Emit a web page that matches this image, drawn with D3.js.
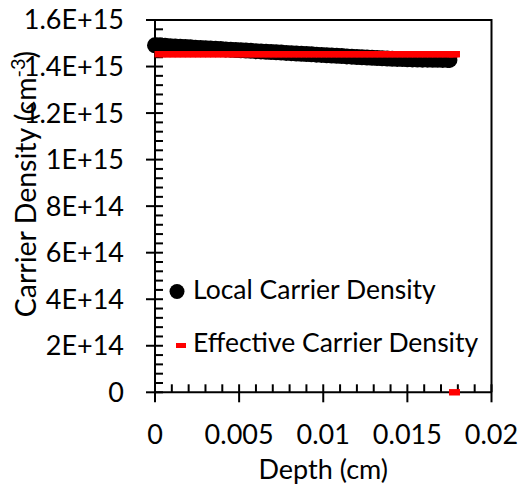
<!DOCTYPE html>
<html>
<head>
<meta charset="utf-8">
<script src="https://cdn.jsdelivr.net/npm/d3@7"></script>
<style>
  html, body { margin: 0; padding: 0; background: #fff; }
  svg { display: block; }
  text { font-family: Lato, "Open Sans", sans-serif; fill: #000; }
</style>
</head>
<body>
<svg id="chart" width="521" height="487"></svg>
<script>
// Depth profile of the local carrier density (cm^-3) against depth (cm)
const localDepth = [
  0.0000, 0.0003, 0.0006, 0.0009, 0.0012, 0.0015, 0.0018, 0.0021, 0.0024, 0.0027,
  0.0030, 0.0033, 0.0036, 0.0039, 0.0042, 0.0045, 0.0048, 0.0051, 0.0054, 0.0057,
  0.0060, 0.0063, 0.0066, 0.0069, 0.0072, 0.0075, 0.0078, 0.0081, 0.0084, 0.0087,
  0.0090, 0.0093, 0.0096, 0.0099, 0.0102, 0.0105, 0.0108, 0.0111, 0.0114, 0.0117,
  0.0120, 0.0123, 0.0126, 0.0129, 0.0132, 0.0135, 0.0138, 0.0141, 0.0144, 0.0147,
  0.0150, 0.0153, 0.0156, 0.0159, 0.0162, 0.0165, 0.0168, 0.0171, 0.0174, 0.0175
];
const localDensity = [
  1.4913e15, 1.4900e15, 1.4888e15, 1.4875e15, 1.4863e15, 1.4850e15, 1.4837e15, 1.4825e15, 1.4812e15, 1.4800e15,
  1.4787e15, 1.4775e15, 1.4762e15, 1.4749e15, 1.4737e15, 1.4724e15, 1.4712e15, 1.4699e15, 1.4686e15, 1.4674e15,
  1.4661e15, 1.4648e15, 1.4636e15, 1.4623e15, 1.4611e15, 1.4598e15, 1.4586e15, 1.4573e15, 1.4561e15, 1.4548e15,
  1.4536e15, 1.4523e15, 1.4511e15, 1.4498e15, 1.4486e15, 1.4473e15, 1.4461e15, 1.4448e15, 1.4436e15, 1.4423e15,
  1.4411e15, 1.4399e15, 1.4387e15, 1.4376e15, 1.4365e15, 1.4354e15, 1.4344e15, 1.4335e15, 1.4327e15, 1.4320e15,
  1.4313e15, 1.4307e15, 1.4302e15, 1.4297e15, 1.4294e15, 1.4291e15, 1.4288e15, 1.4286e15, 1.4284e15, 1.4283e15
];

// Effective (depth-averaged) carrier density, plus the closing point at zero
const effDepth = [
  0.0003, 0.0006, 0.0009, 0.0012, 0.0015, 0.0018, 0.0021, 0.0024, 0.0027, 0.0030,
  0.0033, 0.0036, 0.0039, 0.0042, 0.0045, 0.0048, 0.0051, 0.0054, 0.0057, 0.0060,
  0.0063, 0.0066, 0.0069, 0.0072, 0.0075, 0.0078, 0.0081, 0.0084, 0.0087, 0.0090,
  0.0093, 0.0096, 0.0099, 0.0102, 0.0105, 0.0108, 0.0111, 0.0114, 0.0117, 0.0120,
  0.0123, 0.0126, 0.0129, 0.0132, 0.0135, 0.0138, 0.0141, 0.0144, 0.0147, 0.0150,
  0.0153, 0.0156, 0.0159, 0.0162, 0.0165, 0.0168, 0.0171, 0.0174, 0.0177, 0.0178,
  0.0178
];
const effDensity = [
  1.453e15, 1.453e15, 1.453e15, 1.453e15, 1.453e15, 1.453e15, 1.453e15, 1.453e15, 1.453e15, 1.453e15,
  1.453e15, 1.453e15, 1.453e15, 1.453e15, 1.453e15, 1.453e15, 1.453e15, 1.453e15, 1.453e15, 1.453e15,
  1.453e15, 1.453e15, 1.453e15, 1.453e15, 1.453e15, 1.453e15, 1.453e15, 1.453e15, 1.453e15, 1.453e15,
  1.453e15, 1.453e15, 1.453e15, 1.453e15, 1.453e15, 1.453e15, 1.453e15, 1.453e15, 1.453e15, 1.453e15,
  1.453e15, 1.453e15, 1.453e15, 1.453e15, 1.453e15, 1.453e15, 1.453e15, 1.453e15, 1.453e15, 1.453e15,
  1.453e15, 1.453e15, 1.453e15, 1.453e15, 1.453e15, 1.453e15, 1.453e15, 1.453e15, 1.453e15, 1.453e15,
  0
];

const xTicks = [0, 0.005, 0.01, 0.015, 0.02];
const xTickLabels = ["0", "0.005", "0.01", "0.015", "0.02"];
const yTicks = [0, 2e14, 4e14, 6e14, 8e14, 1e15, 1.2e15, 1.4e15, 1.6e15];
const yTickLabels = ["0", "2E+14", "4E+14", "6E+14", "8E+14", "1E+15", "1.2E+15", "1.4E+15", "1.6E+15"];
const seriesNames = ["Local Carrier Density", "Effective Carrier Density"];

const svg = d3.select("#chart");
const FS = 27;      // tick labels and axis titles
const FS_LEG = 26.5; // legend entries

const plot = { left: 155, right: 491.5, top: 20, bottom: 392.3 };
const x = d3.scaleLinear().domain([0, 0.02]).range([plot.left, plot.right]);
const y = d3.scaleLinear().domain([0, 1.6e15]).range([plot.bottom, plot.top]);

// frame: top and right edges of the plot area
svg.append("path")
  .attr("d", `M${plot.left},${plot.top}H${plot.right}V${plot.bottom}`)
  .attr("fill", "none").attr("stroke", "#000").attr("stroke-width", 2);

// y axis with inside minor ticks and crossing major ticks
const yAxis = svg.append("g");
yAxis.append("line").attr("x1", plot.left).attr("x2", plot.left)
  .attr("y1", plot.top).attr("y2", plot.bottom).attr("stroke", "#000").attr("stroke-width", 2);
const yMinor = d3.range(0, 1.6e15 + 1, 4e13).filter(v => !yTicks.some(t => Math.abs(t - v) < 1));
yAxis.selectAll("line.minor").data(yMinor).join("line").attr("class", "minor")
  .attr("x1", plot.left).attr("x2", plot.left + 8)
  .attr("y1", d => y(d)).attr("y2", d => y(d)).attr("stroke", "#000").attr("stroke-width", 2);
yAxis.selectAll("line.major").data(yTicks).join("line").attr("class", "major")
  .attr("x1", plot.left - 9).attr("x2", plot.left + 8)
  .attr("y1", d => y(d)).attr("y2", d => y(d)).attr("stroke", "#000").attr("stroke-width", 2);
yAxis.selectAll("text").data(yTicks).join("text")
  .attr("x", 124).attr("y", d => y(d)).attr("dy", "0.35em")
  .attr("text-anchor", "end").attr("font-size", FS)
  .text((d, i) => yTickLabels[i]);

// x axis
const xAxis = svg.append("g");
xAxis.append("line").attr("x1", plot.left).attr("x2", plot.right)
  .attr("y1", plot.bottom).attr("y2", plot.bottom).attr("stroke", "#000").attr("stroke-width", 2);
const xMinor = d3.range(0, 0.02 + 1e-9, 0.001).filter(v => !xTicks.some(t => Math.abs(t - v) < 1e-9));
xAxis.selectAll("line.minor").data(xMinor).join("line").attr("class", "minor")
  .attr("x1", d => x(d)).attr("x2", d => x(d))
  .attr("y1", plot.bottom).attr("y2", plot.bottom - 8).attr("stroke", "#000").attr("stroke-width", 2);
xAxis.selectAll("line.major").data(xTicks).join("line").attr("class", "major")
  .attr("x1", d => x(d)).attr("x2", d => x(d))
  .attr("y1", plot.bottom - 8).attr("y2", plot.bottom + 10).attr("stroke", "#000").attr("stroke-width", 2);
xAxis.selectAll("text").data(xTicks).join("text")
  .attr("x", d => x(d)).attr("y", 444)
  .attr("text-anchor", "middle").attr("font-size", FS)
  .text((d, i) => xTickLabels[i]);

// axis titles
svg.append("text").attr("x", (plot.left + plot.right) / 2).attr("y", 479)
  .attr("text-anchor", "middle").attr("font-size", FS).text("Depth (cm)");
const yt = svg.append("text")
  .attr("transform", "translate(36,184) rotate(-90)")
  .attr("text-anchor", "middle").attr("font-size", 28.5);
yt.append("tspan").text("Carrier Density (cm");
yt.append("tspan").attr("dy", -11).attr("font-size", 20).text("-3");
yt.append("tspan").attr("dy", 11).text(")");

// local carrier density: dense circle markers
const localPts = localDepth.map((d, i) => [d, localDensity[i]]);
svg.append("g").selectAll("circle").data(localPts).join("circle")
  .attr("cx", d => x(d[0])).attr("cy", d => y(d[1])).attr("r", 8).attr("fill", "#000");

// effective carrier density: red dash markers
const effPts = effDepth.map((d, i) => [d, effDensity[i]]);
svg.append("g").selectAll("rect").data(effPts).join("rect")
  .attr("x", d => x(d[0]) - 5.5).attr("y", d => y(d[1]) - 3.2)
  .attr("width", 11).attr("height", 6.4).attr("fill", "#ff0000");

// legend
const lg = svg.append("g");
lg.append("circle").attr("cx", 177).attr("cy", 291.5).attr("r", 7.5).attr("fill", "#000");
lg.append("rect").attr("x", 176).attr("y", 343).attr("width", 10).attr("height", 5).attr("fill", "#ff0000");
lg.append("text").attr("x", 193).attr("y", 298.5).attr("font-size", FS_LEG).text(seriesNames[0]);
lg.append("text").attr("x", 193).attr("y", 351.5).attr("font-size", FS_LEG).text(seriesNames[1]);
</script>
</body>
</html>
